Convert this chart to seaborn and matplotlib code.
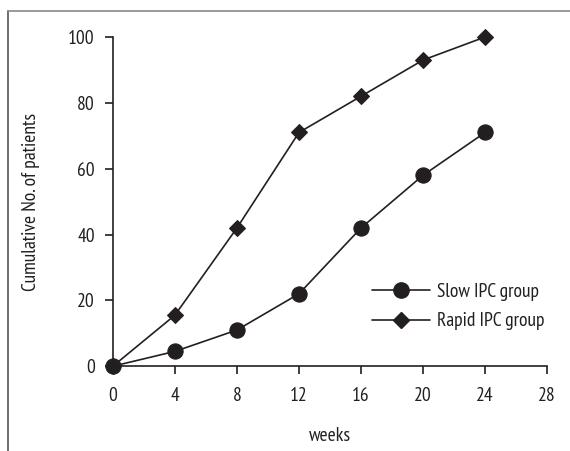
import matplotlib.pyplot as plt
import pandas as pd
import seaborn as sns
from matplotlib.lines import Line2D

weeks = [0, 4, 8, 12, 16, 20, 24]
slow_ipc = [0, 4.5, 11, 22, 42, 58, 71]
rapid_ipc = [0, 15.5, 42, 71, 82, 93, 100]
groups = ["Slow IPC group", "Rapid IPC group"]
x_ticks = [0, 4, 8, 12, 16, 20, 24, 28]
y_ticks = [0, 20, 40, 60, 80, 100]

df = pd.DataFrame({
    "weeks": weeks * 2,
    "patients": slow_ipc + rapid_ipc,
    "group": [groups[0]] * len(weeks) + [groups[1]] * len(weeks),
})

sns.set_style("white")
plt.rcParams["font.family"] = ["PT Sans Narrow", "DejaVu Sans"]
ink = "#231f20"
fs = 14

fig = plt.figure(figsize=(5.7, 4.51), dpi=100)
ax = fig.add_axes([0.198, 0.188, 0.762, 0.73])

sns.lineplot(
    data=df, x="weeks", y="patients", style="group",
    markers={groups[0]: "o", groups[1]: "D"}, dashes=False,
    color=ink, linewidth=1.2, markeredgecolor=ink, legend=False, ax=ax,
)
for line, ms in zip(ax.lines, [11, 8]):
    line.set_markersize(ms)
    line.set_clip_on(False)
    line.set_zorder(5)

ax.set_xlim(0, 28)
ax.set_ylim(0, 100)
ax.set_xticks(x_ticks)
ax.set_yticks(y_ticks)
ax.spines[["top", "right"]].set_visible(False)
for s in ["left", "bottom"]:
    ax.spines[s].set_color(ink)
    ax.spines[s].set_linewidth(1.2)
ax.tick_params(direction="out", length=6, width=1.2, color=ink, labelsize=fs,
               labelcolor=ink, left=True, bottom=True)
ax.tick_params(axis="x", pad=9)
ax.tick_params(axis="y", pad=7)
ax.set_xlabel("weeks", fontsize=fs, color=ink, labelpad=16)
ax.set_ylabel("Cumulative No. of patients", fontsize=fs, color=ink, labelpad=20)

handles = [
    Line2D([], [], color=ink, marker="o", markersize=11, linewidth=1.2),
    Line2D([], [], color=ink, marker="D", markersize=8, linewidth=1.2),
]
fig.legend(handles, groups, loc="upper left", bbox_to_anchor=(0.622, 0.412),
           frameon=False, fontsize=fs, handlelength=3.0, handletextpad=0.35,
           labelspacing=0.6, labelcolor=ink)

# frame lines around the figure (left and top)
fig.add_artist(Line2D([0.014, 0.014], [0, 0.976], color="#555555", linewidth=1.2))
fig.add_artist(Line2D([0.014, 1.0], [0.976, 0.976], color="#888888", linewidth=1.2))

fig.savefig("out.png", dpi=100)
